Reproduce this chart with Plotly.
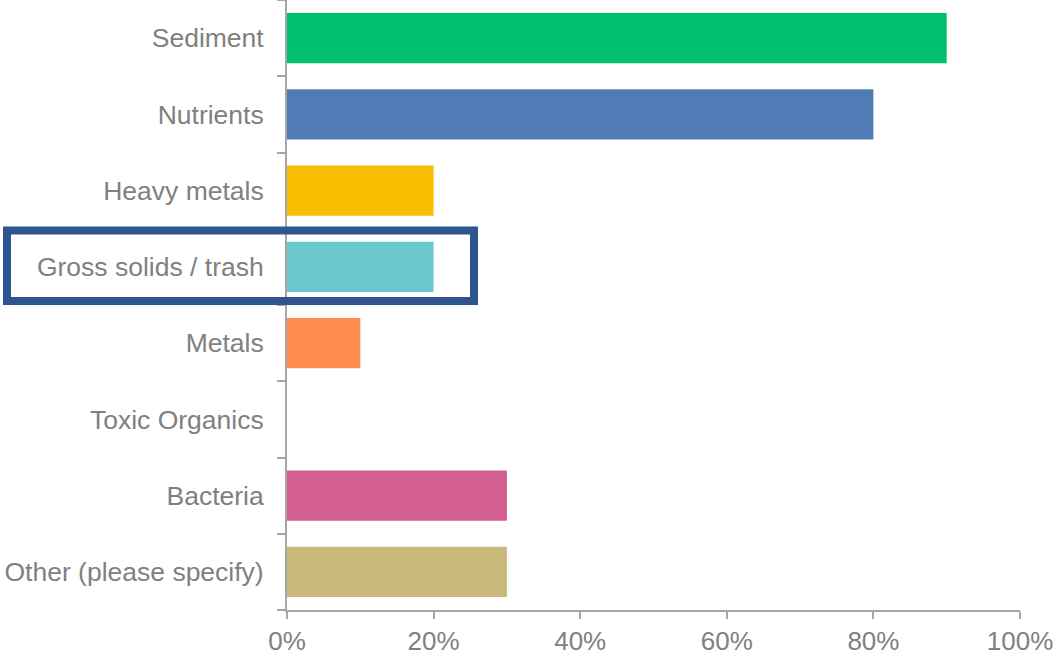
import plotly.graph_objects as go

categories = [
    "Sediment",
    "Nutrients",
    "Heavy metals",
    "Gross solids / trash",
    "Metals",
    "Toxic Organics",
    "Bacteria",
    "Other (please specify)",
]
shares = [0.90, 0.80, 0.20, 0.20, 0.10, 0.0, 0.30, 0.30]
colors = ["#00BF6F", "#507CB6", "#F9BE00", "#6BC8CD", "#FF8B4F", "#A0A0A0", "#D25F90", "#C8B87A"]
x_ticks = [0, 0.2, 0.4, 0.6, 0.8, 1.0]
x_tick_text = ["0%", "20%", "40%", "60%", "80%", "100%"]

W, H = 1061, 655
ML, MR, MT, MB = 287, 41, 0, 45
axis_gray = "#A6A6A6"
text_gray = "#808080"

fig = go.Figure(
    go.Bar(
        x=shares,
        y=categories,
        orientation="h",
        marker=dict(color=colors, line=dict(width=0)),
        hoverinfo="x+y",
    )
)

fig.update_layout(
    width=W,
    height=H,
    margin=dict(l=ML, r=MR, t=MT, b=MB, pad=0),
    paper_bgcolor="white",
    plot_bgcolor="white",
    bargap=0.34,
    showlegend=False,
    font=dict(family="Liberation Sans, Arial, sans-serif", size=26, color=text_gray),
)

fig.update_xaxes(
    range=[0, 1],
    tickvals=x_ticks,
    ticktext=x_tick_text,
    showgrid=False,
    zeroline=False,
    showline=True,
    linecolor=axis_gray,
    linewidth=2,
    ticks="outside",
    ticklen=7,
    tickwidth=2,
    tickcolor=axis_gray,
    tickfont=dict(size=26, color=text_gray),
)

fig.update_yaxes(
    categoryorder="array",
    categoryarray=categories[::-1],
    autorange=False,
    range=[-0.5, len(categories) - 0.5],
    showgrid=False,
    zeroline=False,
    showline=True,
    linecolor=axis_gray,
    linewidth=2,
    ticks="outside",
    tickson="boundaries",
    ticklen=8,
    tickwidth=2,
    tickcolor=axis_gray,
    ticklabelstandoff=16,
    tickfont=dict(size=26.5, color=text_gray),
)

# Highlight frame around the "Gross solids / trash" row, in pixel terms of the plot area
plot_w = W - ML - MR
plot_h = H - MT - MB


def px_x(px):
    return (px - ML) / plot_w


def px_y(py):
    return 1 - (py - MT) / plot_h


fig.add_shape(
    type="rect",
    xref="paper",
    yref="paper",
    x0=px_x(7),
    x1=px_x(474),
    y0=px_y(301),
    y1=px_y(230.5),
    line=dict(color="#2F5590", width=8),
    fillcolor="rgba(0,0,0,0)",
    layer="above",
)

fig.write_html("out.html")
